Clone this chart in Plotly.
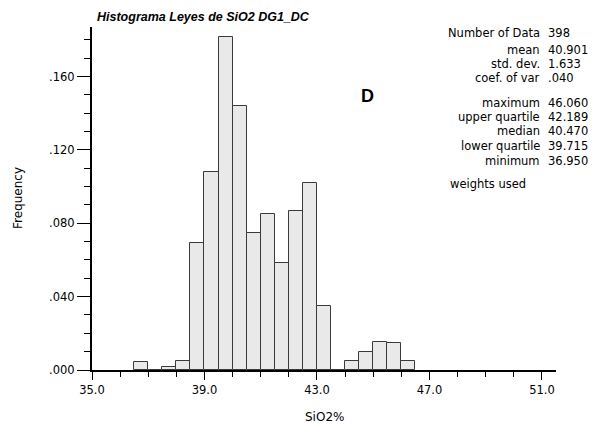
import plotly.graph_objects as go

# Histogram classes (lower bound of each 0.5 % class) and weighted frequencies
class_lower = [36.5, 37.0, 37.5, 38.0, 38.5, 39.0, 39.5, 40.0, 40.5, 41.0,
               41.5, 42.0, 42.5, 43.0, 43.5, 44.0, 44.5, 45.0, 45.5, 46.0]
frequency = [0.0042, 0.0, 0.0018, 0.0049, 0.0695, 0.1078, 0.1815, 0.1440, 0.0749, 0.0853,
             0.0581, 0.0869, 0.1019, 0.0350, 0.0, 0.0047, 0.0098, 0.0151, 0.0145, 0.0047]
class_width = 0.5

x_tick_values = [35, 39, 43, 47, 51]
x_tick_labels = ["35.0", "39.0", "43.0", "47.0", "51.0"]
y_tick_values = [0.0, 0.04, 0.08, 0.12, 0.16]
y_tick_labels = [".000", ".040", ".080", ".120", ".160"]

stat_names = ["Number of Data", "mean", "std. dev.", "coef. of var",
              "maximum", "upper quartile", "median", "lower quartile", "minimum"]
stat_values = ["398", "40.901", "1.633", ".040",
               "46.060", "42.189", "40.470", "39.715", "36.950"]

W, H = 597, 426
ML, MR, MT, MB = 92, 41, 27, 56
PW, PH = W - ML - MR, H - MT - MB

TEXT_FONT = "DejaVu Sans"


def px_x(px):
    return (px - ML) / PW


def px_y(py):
    return 1 - (py - MT) / PH


fig = go.Figure()
fig.add_trace(go.Bar(
    x=class_lower, y=frequency, width=class_width, offset=0,
    marker=dict(color="#e9e9e9", line=dict(color="#3a3a3a", width=1)),
    hoverinfo="skip",
))

axis_common = dict(
    showline=True, linecolor="black", linewidth=2,
    ticks="outside", tickcolor="black", tickwidth=1,
    showgrid=False, zeroline=False,
    tickfont=dict(family=TEXT_FONT, size=11.5, color="black"),
    tickmode="array",
)

fig.update_xaxes(
    range=[35, 51.5], tickvals=x_tick_values, ticktext=x_tick_labels, ticklen=8,
    minor=dict(tick0=35, dtick=1, ticks="outside", ticklen=5, tickcolor="black", tickwidth=1),
    **axis_common,
)
fig.update_yaxes(
    range=[0, 0.187], tickvals=y_tick_values, ticktext=y_tick_labels, ticklen=13,
    minor=dict(tick0=0, dtick=0.01, ticks="outside", ticklen=6, tickcolor="black", tickwidth=1),
    **axis_common,
)

annotations = []

# Title
annotations.append(dict(
    text="<b><i>Histograma Leyes de SiO2 DG1_DC</i></b>",
    x=px_x(95), y=px_y(17), xanchor="left", yanchor="middle",
    font=dict(family="Liberation Sans", size=12.5, color="black"),
))

# Axis titles
annotations.append(dict(
    text="SiO2%", x=px_x(324), y=px_y(417), xanchor="center", yanchor="middle",
    font=dict(family=TEXT_FONT, size=12, color="black"),
))
annotations.append(dict(
    text="Frequency", x=px_x(18), y=px_y(198), xanchor="center", yanchor="middle",
    textangle=-90, font=dict(family=TEXT_FONT, size=12, color="black"),
))

# Panel letter
annotations.append(dict(
    text="<b>D</b>", x=px_x(367), y=px_y(96), xanchor="center", yanchor="middle",
    font=dict(family="Liberation Sans", size=18, color="black"),
))

# Summary statistics
stat_rows_y = [33, 50, 64, 78, 103, 117, 131, 146, 161]
for name, value, ry in zip(stat_names, stat_values, stat_rows_y):
    annotations.append(dict(
        text=name, x=px_x(542), y=px_y(ry), xanchor="right", yanchor="middle",
        font=dict(family=TEXT_FONT, size=11.5, color="black"),
    ))
    annotations.append(dict(
        text=value, x=px_x(546), y=px_y(ry), xanchor="left", yanchor="middle",
        font=dict(family=TEXT_FONT, size=11.5, color="black"),
    ))
annotations.append(dict(
    text="weights used", x=px_x(448), y=px_y(184), xanchor="left", yanchor="middle",
    font=dict(family=TEXT_FONT, size=11.5, color="black"),
))

for a in annotations:
    a.update(xref="paper", yref="paper", showarrow=False)

fig.update_layout(
    width=W, height=H,
    margin=dict(l=ML, r=MR, t=MT, b=MB),
    paper_bgcolor="white", plot_bgcolor="white",
    showlegend=False, bargap=0,
    annotations=annotations,
)

fig.write_html("out.html")
